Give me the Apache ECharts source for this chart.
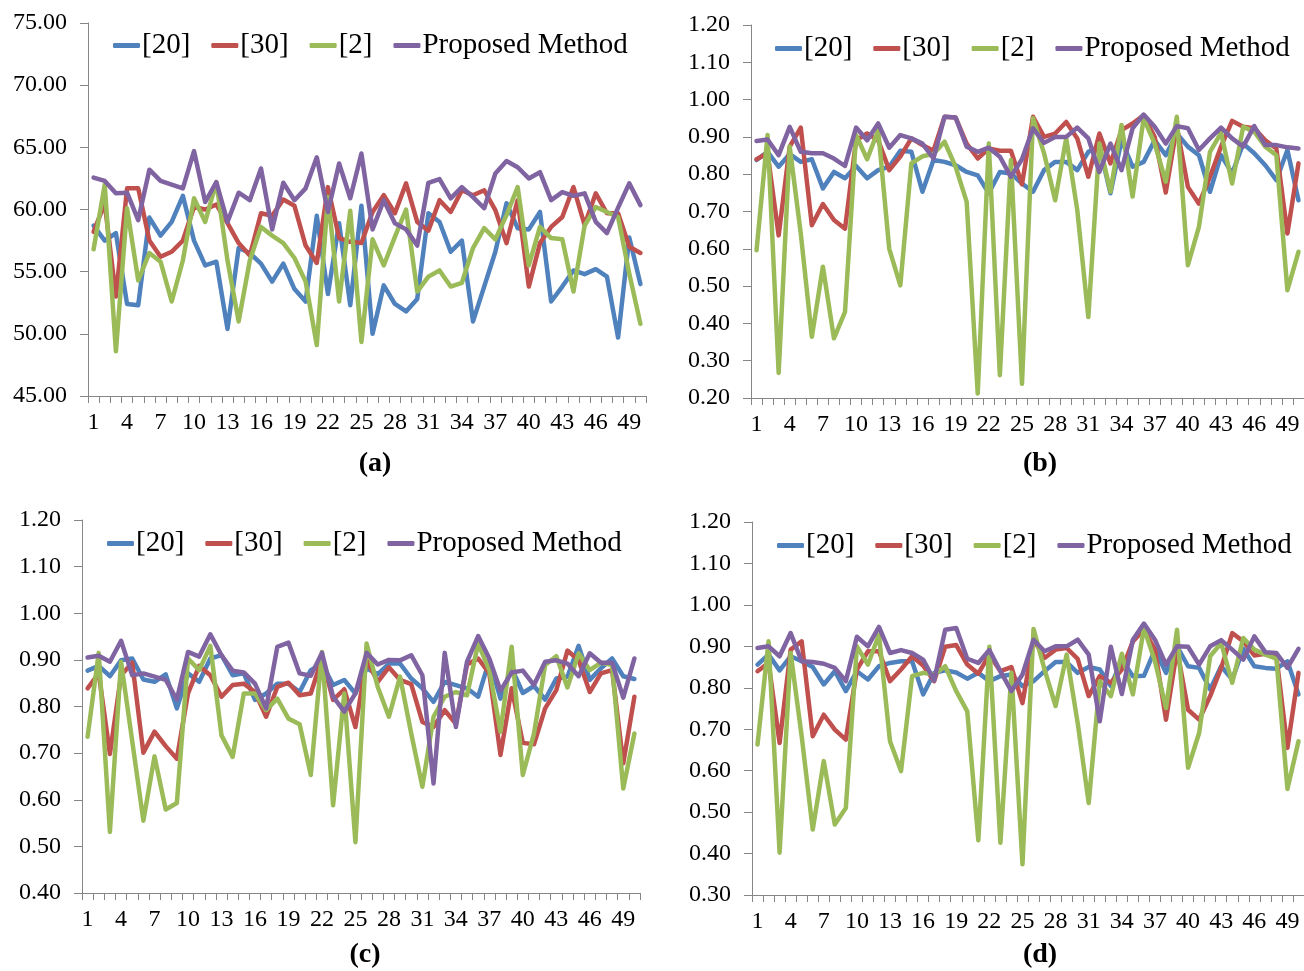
<!DOCTYPE html>
<html>
<head>
<meta charset="utf-8">
<script src="https://cdn.jsdelivr.net/npm/echarts@6/dist/echarts.min.js"></script>
<style>
  html, body { margin: 0; padding: 0; background: #fff; }
  #chart { width: 1304px; height: 971px; }
</style>
</head>
<body>
<div id="chart"></div>
<script>
// Sample index 1..50 shared by all four panels
const categories = Array.from({ length: 50 }, (_, i) => String(i + 1));
const seriesNames = ['[20]', '[30]', '[2]', 'Proposed Method'];
const panelLabels = ['(a)', '(b)', '(c)', '(d)'];

// Panel (a)
const aBlue = [58.7,57.5,58.1,52.4,52.3,59.35,57.9,59.0,61.1,57.5, 55.5,55.8,50.4,56.9,56.5,55.65,54.2,55.65,53.6,52.6, 59.5,53.2,58.9,52.3,60.3,50.0,53.9,52.4,51.8,52.8, 59.7,59.0,56.6,57.5,51.0,53.8,56.6,60.5,58.5,58.4, 59.8,52.6,53.8,55.1,54.8,55.2,54.6,49.7,57.75,54.0];
const aRed = [58.2,60.5,53.0,61.7,61.7,57.5,56.2,56.6,57.5,60.2, 60.0,60.4,58.9,57.3,56.3,59.7,59.5,60.8,60.3,57.1, 55.7,61.8,57.7,57.4,57.3,59.8,61.15,59.7,62.1,59.0, 58.3,60.75,59.8,61.55,61.15,61.55,59.95,57.3,60.75,53.8, 57.3,58.6,59.4,61.8,58.75,61.3,59.7,59.7,57.0,56.5];
const aGreen = [56.8,62.0,48.6,60.1,54.3,56.5,55.8,52.6,55.9,60.9, 59.0,62.2,55.9,51.0,55.9,58.6,57.9,57.3,56.1,54.2, 49.1,61.0,52.6,59.9,49.35,57.6,55.5,57.8,60.0,53.4, 54.6,55.1,53.8,54.1,56.9,58.5,57.6,59.55,61.8,55.5, 58.6,57.7,57.6,53.4,58.7,60.2,59.8,59.4,54.85,50.8];
const aPurple = [62.57,62.3,61.3,61.35,59.15,63.2,62.3,62.0,61.7,64.7, 60.6,62.2,59.0,61.35,60.75,63.3,58.4,62.15,60.75,61.7, 64.2,59.8,63.7,60.9,64.5,58.4,60.75,58.9,58.4,57.1, 62.15,62.45,60.9,61.8,61.0,60.1,62.9,63.9,63.4,62.5, 63.0,60.75,61.4,61.1,61.3,59.0,58.1,60.15,62.1,60.35];

// Panel (b)
const bBlue = [0.838,0.86,0.82,0.854,0.833,0.84,0.762,0.806,0.789,0.822, 0.789,0.811,0.82,0.863,0.86,0.753,0.838,0.833,0.824,0.806, 0.797,0.749,0.806,0.802,0.775,0.753,0.811,0.833,0.833,0.811, 0.86,0.874,0.749,0.891,0.82,0.833,0.891,0.851,0.909,0.874, 0.851,0.753,0.851,0.802,0.882,0.856,0.824,0.784,0.865,0.73];
const bRed = [0.84,0.856,0.636,0.874,0.925,0.663,0.72,0.677,0.654,0.891, 0.909,0.891,0.811,0.847,0.896,0.878,0.863,0.954,0.952,0.882, 0.842,0.869,0.863,0.863,0.773,0.954,0.90,0.909,0.94,0.896, 0.793,0.909,0.829,0.918,0.936,0.958,0.90,0.751,0.927,0.766, 0.721,0.793,0.874,0.943,0.927,0.923,0.891,0.869,0.641,0.829];
const bGreen = [0.596,0.905,0.267,0.874,0.641,0.364,0.552,0.36,0.431,0.905, 0.84,0.918,0.60,0.502,0.829,0.848,0.854,0.887,0.82,0.726, 0.212,0.882,0.261,0.838,0.238,0.95,0.856,0.73,0.896,0.704, 0.417,0.882,0.753,0.932,0.74,0.95,0.882,0.78,0.954,0.556, 0.659,0.86,0.911,0.775,0.927,0.914,0.874,0.851,0.489,0.592];
const bPurple = [0.889,0.893,0.851,0.927,0.86,0.856,0.856,0.842,0.822,0.925, 0.891,0.936,0.871,0.905,0.896,0.882,0.842,0.954,0.952,0.874, 0.86,0.871,0.847,0.793,0.84,0.923,0.884,0.90,0.90,0.925, 0.896,0.806,0.882,0.811,0.923,0.96,0.927,0.882,0.929,0.923, 0.865,0.896,0.925,0.896,0.874,0.929,0.878,0.878,0.872,0.869];

// Panel (c)
const cBlue = [0.877,0.887,0.865,0.899,0.903,0.858,0.853,0.869,0.796,0.871, 0.853,0.903,0.91,0.867,0.871,0.814,0.828,0.849,0.849,0.831, 0.878,0.892,0.846,0.857,0.828,0.882,0.869,0.892,0.892,0.86, 0.839,0.81,0.853,0.846,0.839,0.821,0.899,0.817,0.882,0.829, 0.844,0.815,0.86,0.864,0.93,0.857,0.882,0.903,0.865,0.859];
const cRed = [0.839,0.871,0.698,0.867,0.894,0.701,0.746,0.715,0.688,0.828, 0.887,0.867,0.821,0.846,0.849,0.831,0.778,0.842,0.851,0.824, 0.828,0.903,0.814,0.837,0.756,0.90,0.853,0.884,0.857,0.848, 0.767,0.756,0.792,0.763,0.89,0.903,0.871,0.696,0.839,0.722, 0.719,0.796,0.835,0.92,0.899,0.831,0.871,0.878,0.678,0.821];
const cGreen = [0.735,0.915,0.531,0.896,0.726,0.555,0.693,0.579,0.593,0.903, 0.878,0.93,0.738,0.692,0.828,0.828,0.792,0.817,0.774,0.762, 0.653,0.917,0.588,0.828,0.509,0.935,0.842,0.778,0.864,0.742, 0.628,0.778,0.821,0.831,0.824,0.935,0.878,0.746,0.928,0.653, 0.742,0.889,0.908,0.841,0.914,0.878,0.894,0.889,0.624,0.742];
const cPurple = [0.905,0.909,0.896,0.941,0.867,0.871,0.864,0.857,0.815,0.917, 0.907,0.955,0.91,0.877,0.873,0.849,0.796,0.928,0.937,0.871, 0.866,0.915,0.821,0.789,0.828,0.915,0.89,0.90,0.899,0.91, 0.867,0.635,0.915,0.756,0.896,0.951,0.903,0.834,0.873,0.877, 0.846,0.896,0.899,0.892,0.865,0.914,0.894,0.894,0.819,0.903];

// Panel (d)
const dBlue = [0.856,0.88,0.842,0.876,0.864,0.85,0.808,0.84,0.792,0.84, 0.82,0.852,0.86,0.864,0.864,0.784,0.836,0.842,0.837,0.822, 0.836,0.816,0.828,0.832,0.804,0.816,0.84,0.862,0.862,0.836, 0.85,0.844,0.804,0.868,0.828,0.829,0.892,0.836,0.90,0.852, 0.848,0.796,0.852,0.82,0.894,0.852,0.848,0.846,0.864,0.784];
const dRed = [0.84,0.86,0.667,0.892,0.912,0.683,0.735,0.699,0.675,0.844, 0.888,0.888,0.816,0.844,0.876,0.854,0.816,0.899,0.903,0.856, 0.834,0.88,0.84,0.85,0.763,0.916,0.872,0.892,0.896,0.87, 0.78,0.828,0.812,0.844,0.912,0.94,0.892,0.723,0.892,0.747, 0.723,0.78,0.848,0.932,0.912,0.878,0.882,0.876,0.655,0.836];
const dGreen = [0.663,0.912,0.402,0.884,0.683,0.458,0.623,0.47,0.51,0.90, 0.856,0.928,0.671,0.599,0.828,0.836,0.832,0.852,0.792,0.743, 0.432,0.899,0.426,0.836,0.374,0.942,0.844,0.756,0.88,0.715, 0.522,0.816,0.78,0.882,0.784,0.944,0.864,0.751,0.94,0.607, 0.691,0.876,0.908,0.812,0.92,0.892,0.88,0.87,0.556,0.671];
const dPurple = [0.896,0.90,0.876,0.932,0.864,0.862,0.858,0.848,0.816,0.923, 0.90,0.947,0.884,0.891,0.884,0.868,0.818,0.94,0.944,0.87, 0.86,0.891,0.84,0.792,0.832,0.916,0.888,0.90,0.90,0.916, 0.88,0.719,0.899,0.785,0.916,0.955,0.916,0.856,0.90,0.899, 0.856,0.90,0.915,0.892,0.868,0.924,0.886,0.884,0.848,0.894];

// Y-axis ranges per panel: [min, max, step]
const yRanges = [[45, 75, 5], [0.2, 1.2, 0.1], [0.4, 1.2, 0.1], [0.3, 1.2, 0.1]];

const panelData = [
  [aBlue, aRed, aGreen, aPurple],
  [bBlue, bRed, bGreen, bPurple],
  [cBlue, cRed, cGreen, cPurple],
  [dBlue, dRed, dGreen, dPurple]
];

// Layout of the four plotting areas
const gridBoxes = [
  { left: 88, top: 23, width: 558, height: 373 },
  { left: 751, top: 25, width: 560, height: 373 },
  { left: 82, top: 520, width: 558, height: 373 },
  { left: 752, top: 522, width: 559, height: 373 }
];
const legendPos = [
  { left: 113, top: 31 },
  { left: 775, top: 34 },
  { left: 107, top: 529 },
  { left: 777, top: 531 }
];
const captionPos = [
  { x: 375, y: 464 },
  { x: 1040, y: 464 },
  { x: 365, y: 955 },
  { x: 1040, y: 955 }
];

const colors = ['#4F81BD', '#C0504D', '#9BBB59', '#8064A2'];
const FONT = '"Liberation Serif", "Times New Roman", serif';
const axisGray = '#868686';

const option = {
  animation: false,
  color: colors,
  grid: gridBoxes.map(g => Object.assign({ containLabel: false }, g)),
  xAxis: gridBoxes.map((g, i) => ({
    type: 'category',
    gridIndex: i,
    data: categories,
    boundaryGap: true,
    axisLine: { lineStyle: { color: axisGray, width: 1 } },
    axisTick: { show: true, interval: 0, length: 7, inside: false, lineStyle: { color: axisGray } },
    axisLabel: { interval: 2, color: '#000', fontFamily: FONT, fontSize: 24, margin: 15 },
    splitLine: { show: false }
  })),
  yAxis: yRanges.map((r, i) => ({
    type: 'value',
    gridIndex: i,
    min: r[0],
    max: r[1],
    interval: r[2],
    axisLine: { show: true, lineStyle: { color: axisGray, width: 1 } },
    axisTick: { show: true, length: 8, lineStyle: { color: axisGray } },
    axisLabel: {
      color: '#000', fontFamily: FONT, fontSize: 24, margin: 21,
      formatter: v => v.toFixed(2)
    },
    splitLine: { show: false }
  })),
  legend: legendPos.map((p, i) => ({
    left: p.left,
    top: p.top,
    orient: 'horizontal',
    data: seriesNames,
    icon: 'roundRect',
    itemWidth: 27,
    itemHeight: 5,
    itemGap: 21,
    padding: 0,
    selectedMode: false,
    textStyle: { fontFamily: FONT, fontSize: 29, color: '#000', padding: [0, 0, 0, -3] }
  })),
  graphic: captionPos.map((p, i) => ({
    type: 'text',
    x: p.x,
    y: p.y,
    style: {
      text: panelLabels[i],
      font: 'bold 28px ' + FONT,
      fill: '#000',
      textAlign: 'center',
      textVerticalAlign: 'middle'
    }
  })),
  series: []
};

panelData.forEach((set, p) => {
  set.forEach((vals, s) => {
    option.series.push({
      name: seriesNames[s],
      type: 'line',
      xAxisIndex: p,
      yAxisIndex: p,
      data: vals,
      symbol: 'none',
      showSymbol: false,
      smooth: false,
      lineStyle: { width: 4.5, color: colors[s], join: 'round', cap: 'round' },
      itemStyle: { color: colors[s] },
      z: 2 + s
    });
  });
});

const chart = echarts.init(document.getElementById('chart'), null, { renderer: 'canvas' });
chart.setOption(option);
</script>
</body>
</html>
